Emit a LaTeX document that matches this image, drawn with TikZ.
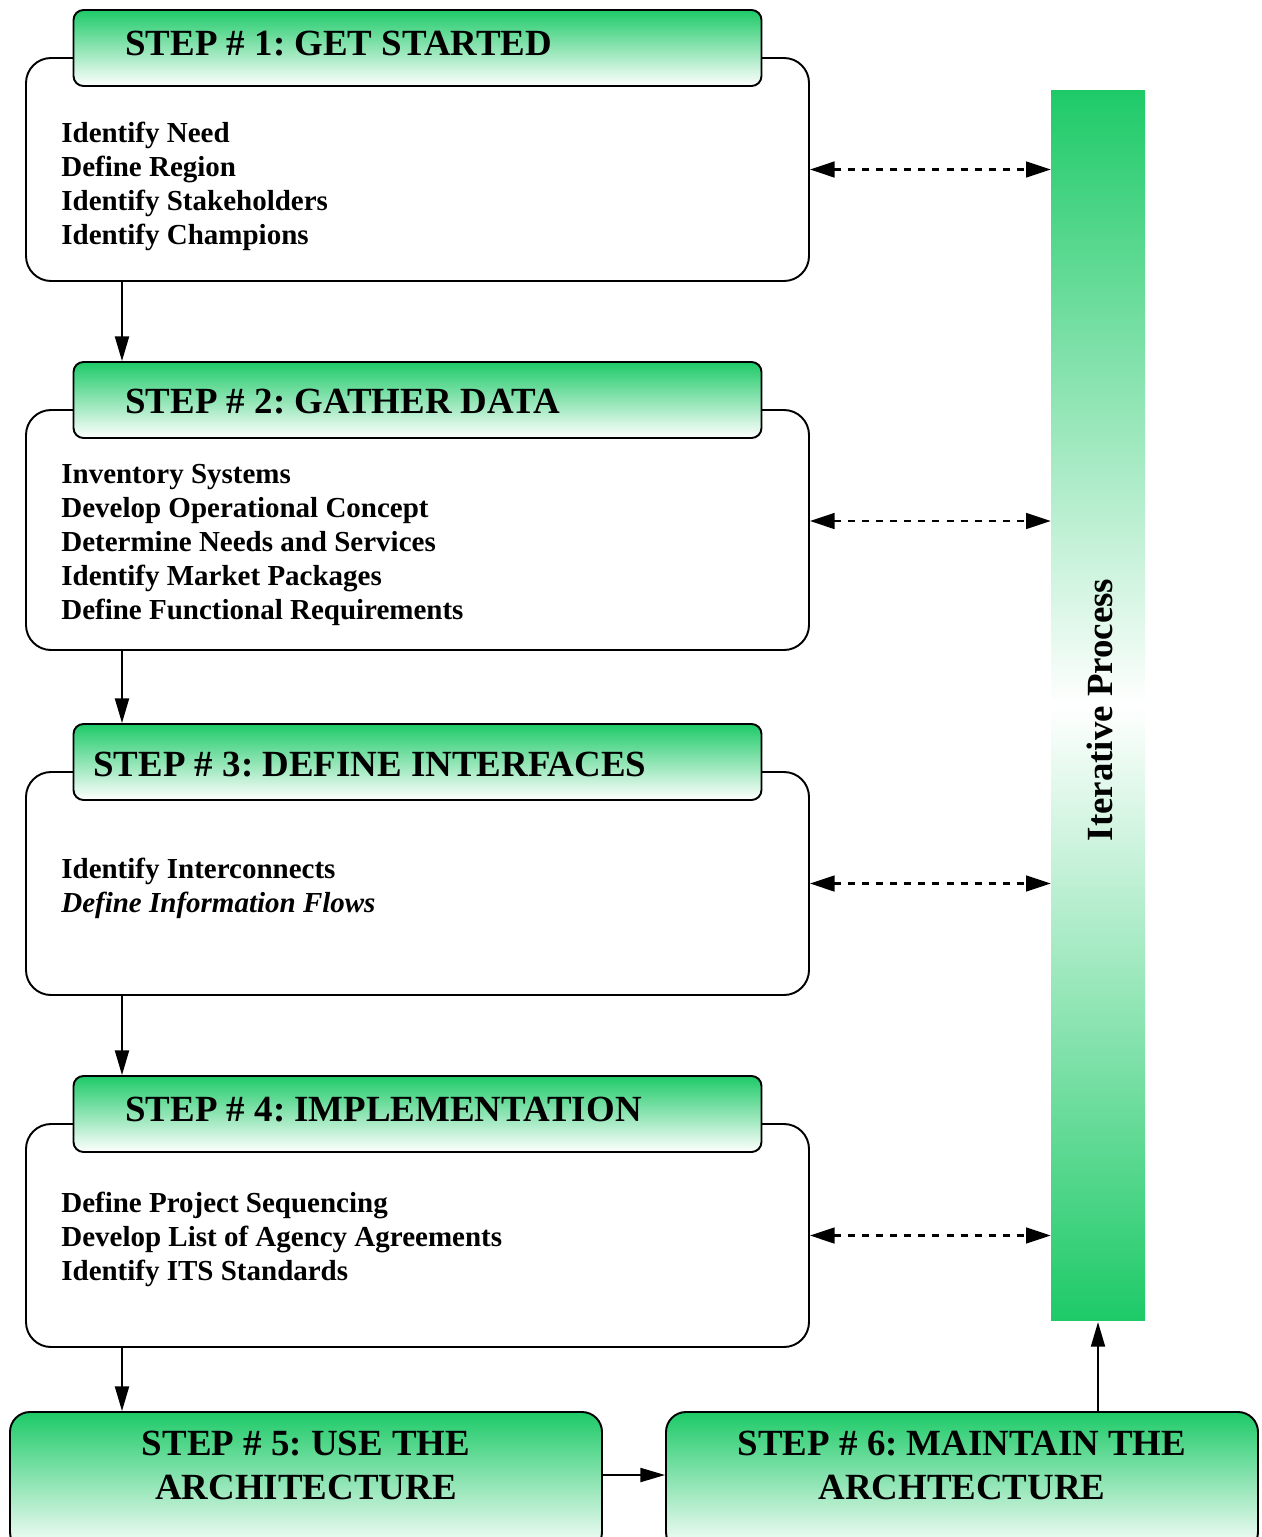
\documentclass[tikz,border=0pt]{standalone}
\usepackage{fontspec}
\setmainfont{Liberation Serif}
\usetikzlibrary{arrows.meta}

\definecolor{stepgreen}{RGB}{30,202,104}

\tikzset{
  mainbox/.style={draw, line width=1.1pt, rounded corners=0.5cm, fill=white,
    minimum width=15.66cm},
  headbox/.style={draw, line width=1.1pt, rounded corners=0.2cm,
    top color=stepgreen, bottom color=white,
    minimum width=13.76cm, minimum height=1.52cm},
  endbox/.style={draw, line width=1.1pt, rounded corners=0.4cm,
    top color=stepgreen, bottom color=white,
    minimum width=11.84cm, minimum height=2.8cm},
  steptitle/.style={inner sep=0pt, font=\bfseries\fontsize{21}{25}\selectfont},
  itemlist/.style={inner sep=0pt, align=left, font=\bfseries\fontsize{16.5}{19.3}\selectfont},
  flow/.style={line width=1pt, -{Triangle[length=14pt,width=8pt]}},
  backflow/.style={line width=1.2pt, dash pattern=on 4pt off 4pt,
    {Triangle[length=14pt,width=9pt]}-{Triangle[length=14pt,width=9pt]}}
}

\begin{document}
\frenchspacing
\begin{tikzpicture}
  \useasboundingbox (0,0) rectangle (25.22,-30.74);

  % iterative bar
  \node[minimum width=1.88cm, minimum height=24.6cm, inner sep=0pt,
    top color=stepgreen, bottom color=stepgreen, middle color=white] (bar) at (21.96,-14.1) {};
  \node[steptitle, rotate=90, anchor=base] (iter) at (22.24,-14.2) {Iterative Process};

  % step boxes
  \node[mainbox, minimum height=4.46cm] (box1) at (8.35,-3.39) {};
  \node[headbox] (head1) at (8.35,-0.96) {};
  \node[steptitle, anchor=base west] (t1) at (2.5,-1.10) {STEP \# 1: GET STARTED};
  \node[itemlist, anchor=base west] (l1) at (1.22,-4.88)
    {Identify Need\\Define Region\\Identify Stakeholders\\Identify Champions};

  \node[mainbox, minimum height=4.8cm] (box2) at (8.35,-10.6) {};
  \node[headbox] (head2) at (8.35,-8.0) {};
  \node[steptitle, anchor=base west] (t2) at (2.5,-8.26) {STEP \# 2: GATHER DATA};
  \node[itemlist, anchor=base west] (l2) at (1.22,-12.38)
    {Inventory Systems\\Develop Operational Concept\\Determine Needs and Services\\
     Identify Market Packages\\Define Functional Requirements};

  \node[mainbox, minimum height=4.46cm] (box3) at (8.35,-17.67) {};
  \node[headbox] (head3) at (8.35,-15.24) {};
  \node[steptitle, anchor=base west] (t3) at (1.86,-15.52) {STEP \# 3: DEFINE INTERFACES};
  \node[itemlist, anchor=base west] (l3) at (1.22,-18.24)
    {Identify Interconnects\\\textit{Define Information Flows}};

  \node[mainbox, minimum height=4.46cm] (box4) at (8.35,-24.71) {};
  \node[headbox] (head4) at (8.35,-22.28) {};
  \node[steptitle, anchor=base west] (t4) at (2.5,-22.42) {STEP \# 4: IMPLEMENTATION};
  \node[itemlist, anchor=base west] (l4) at (1.22,-25.6)
    {Define Project Sequencing\\Develop List of Agency Agreements\\Identify ITS Standards};

  \node[endbox] (box5) at (6.12,-29.64) {};
  \node[steptitle, align=center] (t5) at (6.12,-29.3) {STEP \# 5: USE THE\\ARCHITECTURE};
  \node[endbox] (box6) at (19.24,-29.64) {};
  \node[steptitle, align=center] (t6) at (19.24,-29.3) {STEP \# 6: MAINTAIN THE\\ARCHTECTURE};

  % connectors
  \coordinate (downx) at (2.44,0);
  \coordinate (mid56) at (0,-29.5);
  \draw[flow] (box1.south -| downx) -- (head2.north -| downx);
  \draw[flow] (box2.south -| downx) -- (head3.north -| downx);
  \draw[flow] (box3.south -| downx) -- (head4.north -| downx);
  \draw[flow] (box4.south -| downx) -- (box5.north -| downx);
  \draw[flow] (box5.east |- mid56) -- (box6.west |- mid56);
  \draw[flow, shorten >=1pt] (box6.north -| bar.south) -- (bar.south);

  \draw[backflow] (box1.east) -- (box1.east -| bar.west);
  \draw[backflow] ([yshift=0.18cm]box2.east) -- ([yshift=0.18cm]box2.east -| bar.west);
  \draw[backflow] (box3.east) -- (box3.east -| bar.west);
  \draw[backflow] (box4.east) -- (box4.east -| bar.west);
\end{tikzpicture}
\end{document}
